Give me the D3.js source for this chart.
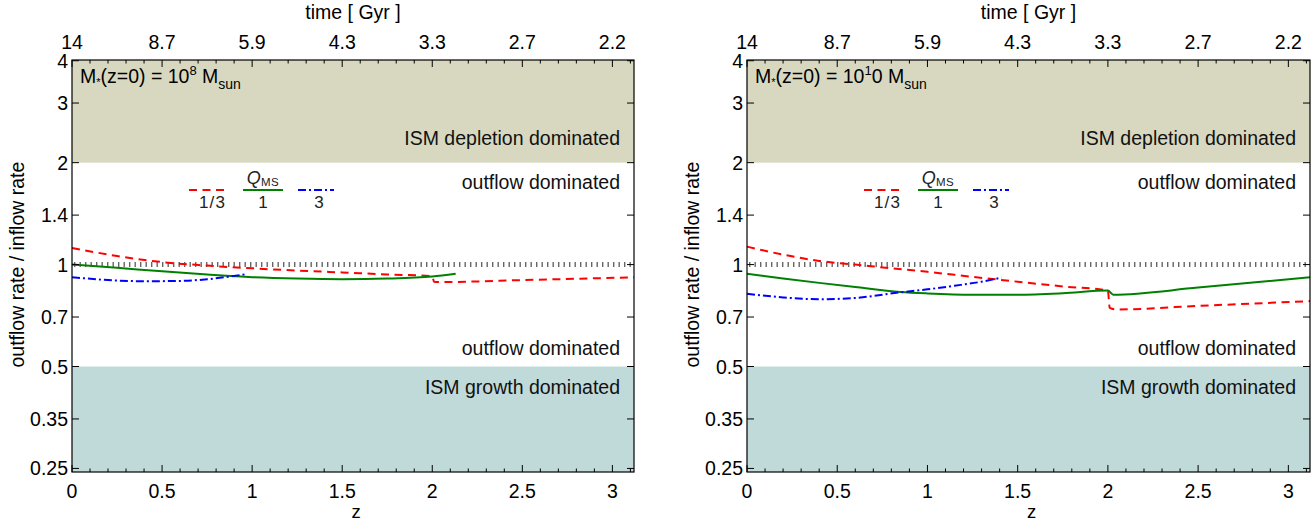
<!DOCTYPE html>
<html><head><meta charset="utf-8">
<script src="https://cdn.jsdelivr.net/npm/d3@7"></script>
<style>
body{margin:0;background:#fff;}
text{font-family:"Liberation Sans",Arial,Helvetica,sans-serif;}
</style></head>
<body><svg id="c" width="1315" height="522"></svg>
<script>
// ---- data ----
const zTicks = [0,0.5,1,1.5,2,2.5,3];
const zTickLabels = ["0","0.5","1","1.5","2","2.5","3"];
const timeTickLabels = ["14","8.7","5.9","4.3","3.3","2.7","2.2"];
const yTicks = [4,3,2,1.4,1,0.7,0.5,0.35,0.25];
const yTickLabels = ["4","3","2","1.4","1","0.7","0.5","0.35","0.25"];
const legendLabels = ["1/3","1","3"];

// panel 1: M*(z=0)=1e8
const p1_red_z = [0,0.25,0.5,0.75,1.0,1.25,1.5,1.75,2.0,2.01,2.05,2.5,3.12];
const p1_red_v = [1.12,1.06,1.017,0.993,0.975,0.96,0.948,0.935,0.924,0.89,0.888,0.9,0.917];
const p1_green_z = [0,0.25,0.5,0.75,1.0,1.25,1.5,1.75,2.0,2.13];
const p1_green_v = [1.0,0.978,0.955,0.935,0.918,0.909,0.905,0.909,0.922,0.939];
const p1_blue_z = [0,0.2,0.4,0.6,0.75,0.85,0.96];
const p1_blue_v = [0.918,0.9,0.893,0.895,0.905,0.918,0.936];

// panel 2: M*(z=0)=1e10
const p2_red_z = [0,0.2,0.4,0.6,0.8,1.0,1.25,1.5,1.75,2.0,2.01,2.05,2.5,3.12];
const p2_red_v = [1.13,1.07,1.025,1.0,0.975,0.952,0.92,0.89,0.862,0.838,0.745,0.737,0.755,0.78];
const p2_green_z = [0,0.2,0.4,0.6,0.85,1.0,1.25,1.5,1.75,2.0,2.03,2.5,3.12];
const p2_green_v = [0.94,0.91,0.883,0.858,0.83,0.822,0.815,0.815,0.823,0.838,0.815,0.855,0.917];
const p2_blue_z = [0,0.2,0.4,0.6,0.85,1.0,1.15,1.3,1.41];
const p2_blue_v = [0.82,0.80,0.79,0.797,0.828,0.845,0.866,0.89,0.915];

const zDomain = [0,3.12];
const yDomain = [0.244,4.02];
const depletionLimit = 2, growthLimit = 0.5, unity = 1;

// ---- drawing ----
const svg = d3.select("#c");
const colors = {red:"#ff0000", green:"#008000", blue:"#0000ff"};
const styles = {red:"8,5.5", green:null, blue:"8,3,2,3"};
const FS = 19.5;

function panel(x0, x1, sup, post, series){
  const top=60, bot=472;
  const x = d3.scaleLinear().domain(zDomain).range([x0,x1]);
  const y = d3.scaleLog().domain(yDomain).range([bot,top]);
  const g = svg.append("g");
  // bands
  g.append("rect").attr("x",x0).attr("width",x1-x0).attr("y",y(yDomain[1])).attr("height",y(depletionLimit)-y(yDomain[1])).attr("fill","#d8d8c0");
  g.append("rect").attr("x",x0).attr("width",x1-x0).attr("y",y(growthLimit)).attr("height",y(yDomain[0])-y(growthLimit)).attr("fill","#c0dada");
  // unity dotted line
  g.append("line").attr("x1",x0+2).attr("x2",x1).attr("y1",y(unity)).attr("y2",y(unity))
    .attr("stroke","#666").attr("stroke-width",5).attr("stroke-dasharray","1.4,4.1");
  // region texts
  const tx = x1-14;
  const rt = (t,yy)=>g.append("text").attr("x",tx).attr("y",yy).attr("text-anchor","end").attr("font-size",FS).attr("fill","#111").text(t);
  rt("ISM depletion dominated",145);
  rt("outflow dominated",189);
  rt("outflow dominated",355);
  rt("ISM growth dominated",394);
  // series
  const line = d3.line().x(d=>x(d[0])).y(d=>y(d[1])).curve(d3.curveMonotoneX);
  series.forEach(s=>{
    g.append("path").attr("d",line(d3.zip(s.z,s.v))).attr("fill","none")
     .attr("stroke",colors[s.c]).attr("stroke-width",2).attr("stroke-dasharray",styles[s.c]);
  });
  // axes
  const ax = g.append("g");
  const ticks = (sc, vals, len, orient)=>{
    vals.forEach(v=>{
      if(orient==="b") ax.append("line").attr("x1",sc(v)).attr("x2",sc(v)).attr("y1",bot).attr("y2",bot-len);
      if(orient==="t") ax.append("line").attr("x1",sc(v)).attr("x2",sc(v)).attr("y1",top).attr("y2",top+len);
      if(orient==="l") ax.append("line").attr("y1",sc(v)).attr("y2",sc(v)).attr("x1",x0).attr("x2",x0+len);
      if(orient==="r") ax.append("line").attr("y1",sc(v)).attr("y2",sc(v)).attr("x1",x1).attr("x2",x1-len);
    });
  };
  const minor = d3.range(0,3.11,0.1).map(v=>+v.toFixed(1)).filter(v=>!zTicks.includes(v));
  ticks(x,zTicks,7,"b"); ticks(x,minor,3.5,"b");
  ticks(x,zTicks,7,"t"); ticks(x,minor,3.5,"t");
  ticks(y,yTicks,7,"l"); ticks(y,yTicks,7,"r");
  ax.selectAll("line").attr("stroke","#000").attr("stroke-width",1);
  g.append("rect").attr("x",x0).attr("y",top).attr("width",x1-x0).attr("height",bot-top).attr("fill","none").attr("stroke","#000").attr("stroke-width",1.2);
  // tick labels
  zTicks.forEach((v,i)=>{
    g.append("text").attr("x",x(v)).attr("y",498).attr("text-anchor","middle").attr("font-size",FS).text(zTickLabels[i]);
    g.append("text").attr("x",x(v)).attr("y",49).attr("text-anchor","middle").attr("font-size",FS).text(timeTickLabels[i]);
  });
  yTicks.forEach((v,i)=>{
    g.append("text").attr("x",x0-4).attr("y",y(v)+7).attr("text-anchor","end").attr("font-size",FS).text(yTickLabels[i]);
  });
  g.append("text").attr("x",(x0+x1)/2+3).attr("y",518).attr("text-anchor","middle").attr("font-size",FS-1).text("z");
  g.append("text").attr("x",(x0+x1)/2).attr("y",19).attr("text-anchor","middle").attr("font-size",FS).text("time [ Gyr ]");
  g.append("text").attr("transform",`translate(${x0-48.5},${y(1)}) rotate(-90)`).attr("text-anchor","middle").attr("font-size",FS).text("outflow rate / inflow rate");
  // title
  const t = g.append("text").attr("x",x0+8).attr("y",83).attr("font-size",FS);
  t.append("tspan").text("M");
  t.append("tspan").attr("font-size",11).attr("dy",3).text("*");
  t.append("tspan").attr("dy",-3).text("(z=0) = 10");
  t.append("tspan").attr("font-size",13).attr("dy",-8).text(sup);
  t.append("tspan").attr("dy",8).text(post+" M");
  t.append("tspan").attr("font-size",14).attr("dy",6).text("sun");
  // legend
  const ly = 190;
  const lx = [[117,154],[171,211],[226,262]];
  const serif = "'Liberation Serif','DejaVu Serif',serif";
  ["red","green","blue"].forEach((c,i)=>{
    g.append("line").attr("x1",x0+lx[i][0]).attr("x2",x0+lx[i][1]).attr("y1",ly).attr("y2",ly)
      .attr("stroke",colors[c]).attr("stroke-width",2).attr("stroke-dasharray",styles[c]);
    g.append("text").attr("x",x0+(lx[i][0]+lx[i][1])/2+(i===0?5:(i===2?3:0))).attr("y",208).attr("text-anchor","middle")
      .attr("font-family",serif).attr("font-size",17).attr("letter-spacing",i===0?1.2:0).attr("fill","#222").text(legendLabels[i]);
  });
  const q = g.append("text").attr("x",x0+(lx[1][0]+lx[1][1])/2).attr("y",184).attr("text-anchor","middle")
     .attr("font-family",serif).attr("fill","#222");
  q.append("tspan").attr("font-size",18).attr("font-style","italic").text("Q");
  q.append("tspan").attr("font-size",11.5).attr("dy",2).attr("letter-spacing",0.5).text("MS");
}

panel(72,634,"8","",[
  {c:"red",z:p1_red_z,v:p1_red_v},{c:"green",z:p1_green_z,v:p1_green_v},{c:"blue",z:p1_blue_z,v:p1_blue_v}]);
panel(747,1310,"1","0",[
  {c:"red",z:p2_red_z,v:p2_red_v},{c:"green",z:p2_green_z,v:p2_green_v},{c:"blue",z:p2_blue_z,v:p2_blue_v}]);
</script></body></html>
